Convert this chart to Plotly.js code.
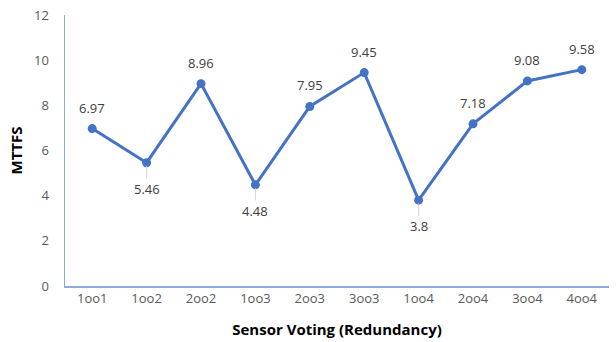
<!DOCTYPE html>
<html>
<head>
<meta charset="utf-8">
<script src="https://cdn.plot.ly/plotly-3.0.1.min.js"></script>
<style>html,body{margin:0;padding:0;background:#fff;}#chart{width:616px;height:342px;}</style>
</head>
<body>
<div id="chart"></div>
<script>
var categories = ["1oo1","1oo2","2oo2","1oo3","2oo3","3oo3","1oo4","2oo4","3oo4","4oo4"];
var mttfs = [6.97, 5.46, 8.96, 4.48, 7.95, 9.45, 3.8, 7.18, 9.08, 9.58];
var labelBelow = [false, true, false, true, false, false, true, false, false, false];
var yTicks = [0, 2, 4, 6, 8, 10, 12];

var font = "Open Sans, Noto Sans, sans-serif";

var annotations = categories.map(function (c, i) {
  var a = {
    x: c, y: mttfs[i], xref: "x", yref: "y",
    text: String(mttfs[i]),
    font: {family: font, size: 13, color: "#404040"}
  };
  if (labelBelow[i]) {
    a.showarrow = true; a.arrowhead = 0; a.arrowwidth = 0.8;
    a.arrowcolor = "#C8C8C8"; a.ax = 0; a.ay = 26; a.standoff = 3;
  } else {
    a.showarrow = false; a.yshift = 21;
  }
  return a;
});

var trace = {
  x: categories, y: mttfs, type: "scatter", mode: "lines+markers",
  line: {color: "#4472C4", width: 3},
  marker: {color: "#4472C4", size: 9},
  hoverinfo: "none"
};

var layout = {
  width: 616, height: 342,
  margin: {l: 65, r: 7, t: 15, b: 56},
  paper_bgcolor: "#fff", plot_bgcolor: "#fff",
  showlegend: false,
  font: {family: font, size: 13, color: "#595959"},
  xaxis: {
    type: "category", range: [-0.5, 9.5],
    showline: true, linecolor: "#8FAADC", linewidth: 1.5,
    showgrid: false, zeroline: false, ticks: "",
    tickfont: {family: font, size: 13, color: "#595959"},
    title: {text: "<b>Sensor Voting (Redundancy)</b>", font: {family: font, size: 15, color: "#000"}, standoff: 18}
  },
  yaxis: {
    range: [0, 12], tickvals: yTicks, ticktext: yTicks.map(String),
    showline: true, linecolor: "#8FAADC", linewidth: 1.5,
    showgrid: false, zeroline: false, ticks: "",
    ticklabelstandoff: 12,
    tickfont: {family: font, size: 13, color: "#595959"},
    title: {text: "<b>MTTFS</b>", font: {family: font, size: 15, color: "#000"}, standoff: 8}
  },
  annotations: annotations
};

Plotly.newPlot("chart", [trace], layout, {staticPlot: true, displayModeBar: false});
</script>
</body>
</html>
